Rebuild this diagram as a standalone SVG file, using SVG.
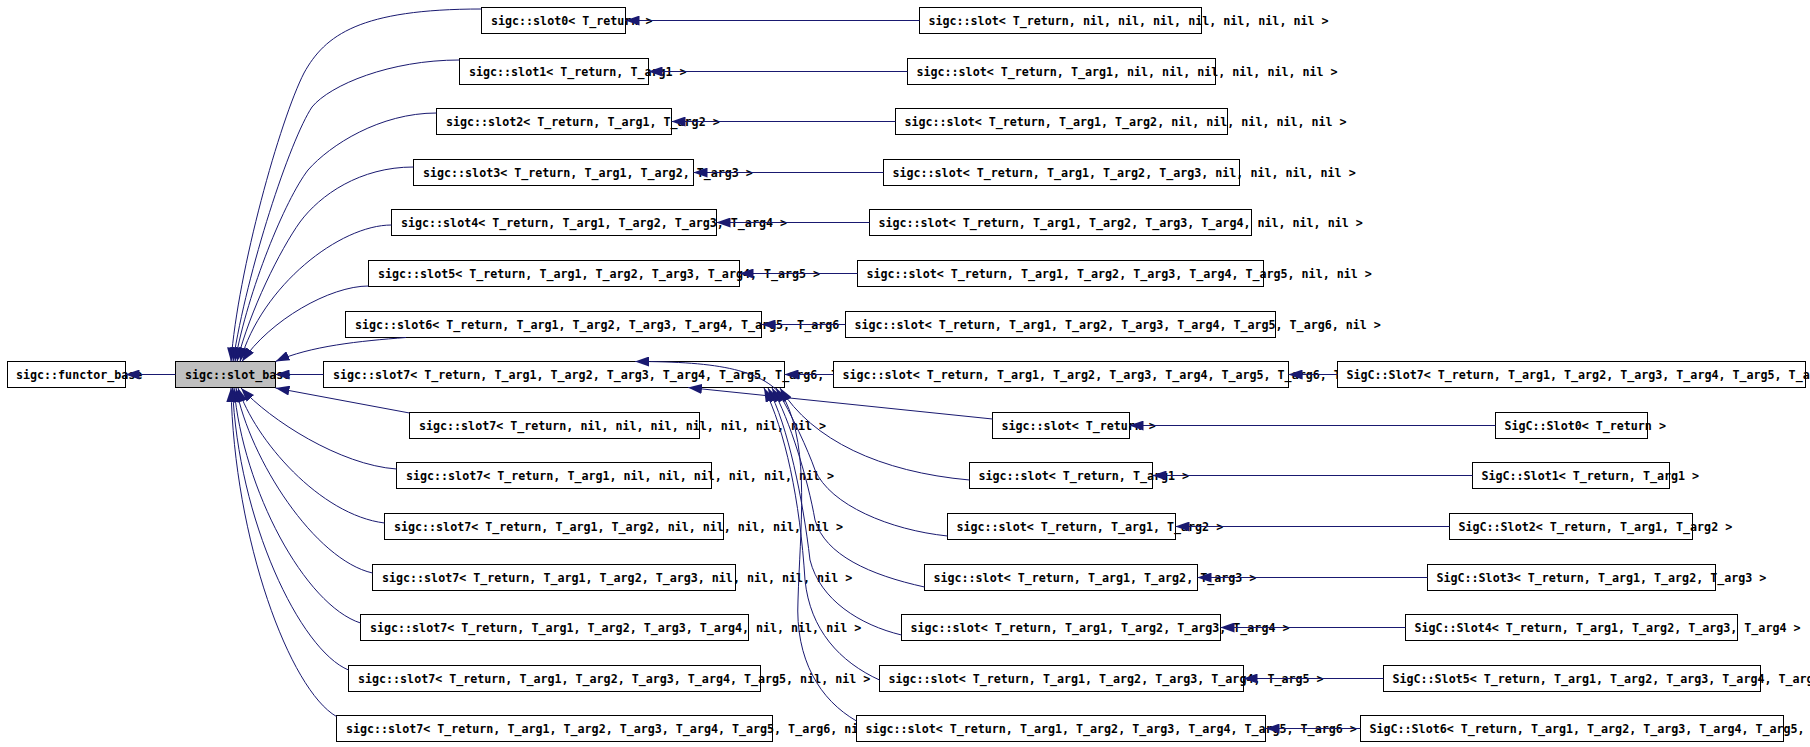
<svg xmlns="http://www.w3.org/2000/svg" width="1810" height="747" viewBox="0 0 1810 747">
<style>
rect{fill:#fff;stroke:#000;stroke-width:1}
.base rect{fill:#bfbfbf}
text{font-family:"DejaVu Sans Mono","Liberation Mono",monospace;font-size:11.67px;font-weight:bold;fill:#000}
#edges path{fill:none;stroke:#191970;stroke-width:1;marker-end:url(#ah)}
</style>
<defs>
<marker id="ah" markerUnits="userSpaceOnUse" markerWidth="14" markerHeight="10" viewBox="0 0 14 10" refX="14" refY="5" orient="auto"><path d="M0,0 L14,5 L0,10 z" fill="#191970"/></marker>
</defs>
<rect x="0" y="0" width="1810" height="747" style="fill:#fff;stroke:none"/>
<g id="nodes">
<g id="functor_base"><rect x="7.5" y="361.5" width="118" height="26"/><text x="16" y="379">sigc::functor_base</text></g>
<g id="slot_base" class="base"><rect x="175.5" y="361.5" width="100" height="26"/><text x="185" y="379">sigc::slot_base</text></g>

<g id="slot0"><rect x="481.5" y="7.5" width="144" height="26"/><text x="491" y="25">sigc::slot0&lt; T_return &gt;</text></g>
<g id="slot1"><rect x="459.5" y="58.5" width="189" height="26"/><text x="469" y="76">sigc::slot1&lt; T_return, T_arg1 &gt;</text></g>
<g id="slot2"><rect x="436.5" y="108.5" width="235" height="26"/><text x="446" y="126">sigc::slot2&lt; T_return, T_arg1, T_arg2 &gt;</text></g>
<g id="slot3"><rect x="413.5" y="159.5" width="280" height="26"/><text x="423" y="177">sigc::slot3&lt; T_return, T_arg1, T_arg2, T_arg3 &gt;</text></g>
<g id="slot4"><rect x="391.5" y="209.5" width="325" height="26"/><text x="401" y="227">sigc::slot4&lt; T_return, T_arg1, T_arg2, T_arg3, T_arg4 &gt;</text></g>
<g id="slot5"><rect x="368.5" y="260.5" width="371" height="26"/><text x="378" y="278">sigc::slot5&lt; T_return, T_arg1, T_arg2, T_arg3, T_arg4, T_arg5 &gt;</text></g>
<g id="slot6"><rect x="345.5" y="311.5" width="416" height="26"/><text x="355" y="329">sigc::slot6&lt; T_return, T_arg1, T_arg2, T_arg3, T_arg4, T_arg5, T_arg6 &gt;</text></g>
<g id="slot7"><rect x="323.5" y="361.5" width="461" height="26"/><text x="333" y="379">sigc::slot7&lt; T_return, T_arg1, T_arg2, T_arg3, T_arg4, T_arg5, T_arg6, T_arg7 &gt;</text></g>
<g id="slot7_0"><rect x="409.5" y="412.5" width="290" height="26"/><text x="419" y="430">sigc::slot7&lt; T_return, nil, nil, nil, nil, nil, nil, nil &gt;</text></g>
<g id="slot7_1"><rect x="396.5" y="462.5" width="315" height="26"/><text x="406" y="480">sigc::slot7&lt; T_return, T_arg1, nil, nil, nil, nil, nil, nil &gt;</text></g>
<g id="slot7_2"><rect x="384.5" y="513.5" width="339" height="26"/><text x="394" y="531">sigc::slot7&lt; T_return, T_arg1, T_arg2, nil, nil, nil, nil, nil &gt;</text></g>
<g id="slot7_3"><rect x="372.5" y="564.5" width="363" height="26"/><text x="382" y="582">sigc::slot7&lt; T_return, T_arg1, T_arg2, T_arg3, nil, nil, nil, nil &gt;</text></g>
<g id="slot7_4"><rect x="360.5" y="614.5" width="388" height="26"/><text x="370" y="632">sigc::slot7&lt; T_return, T_arg1, T_arg2, T_arg3, T_arg4, nil, nil, nil &gt;</text></g>
<g id="slot7_5"><rect x="348.5" y="665.5" width="412" height="26"/><text x="358" y="683">sigc::slot7&lt; T_return, T_arg1, T_arg2, T_arg3, T_arg4, T_arg5, nil, nil &gt;</text></g>
<g id="slot7_6"><rect x="336.5" y="715.5" width="436" height="26"/><text x="346" y="733">sigc::slot7&lt; T_return, T_arg1, T_arg2, T_arg3, T_arg4, T_arg5, T_arg6, nil &gt;</text></g>

<g id="slotn0"><rect x="919.5" y="7.5" width="282" height="26"/><text x="928.5" y="25">sigc::slot&lt; T_return, nil, nil, nil, nil, nil, nil, nil &gt;</text></g>
<g id="slotn1"><rect x="907.5" y="58.5" width="308" height="26"/><text x="916.5" y="76">sigc::slot&lt; T_return, T_arg1, nil, nil, nil, nil, nil, nil &gt;</text></g>
<g id="slotn2"><rect x="895.5" y="108.5" width="332" height="26"/><text x="904.5" y="126">sigc::slot&lt; T_return, T_arg1, T_arg2, nil, nil, nil, nil, nil &gt;</text></g>
<g id="slotn3"><rect x="883.5" y="159.5" width="356" height="26"/><text x="892.5" y="177">sigc::slot&lt; T_return, T_arg1, T_arg2, T_arg3, nil, nil, nil, nil &gt;</text></g>
<g id="slotn4"><rect x="869.5" y="209.5" width="382" height="26"/><text x="878.5" y="227">sigc::slot&lt; T_return, T_arg1, T_arg2, T_arg3, T_arg4, nil, nil, nil &gt;</text></g>
<g id="slotn5"><rect x="857.5" y="260.5" width="406" height="26"/><text x="866.5" y="278">sigc::slot&lt; T_return, T_arg1, T_arg2, T_arg3, T_arg4, T_arg5, nil, nil &gt;</text></g>
<g id="slotn6"><rect x="845.5" y="311.5" width="430" height="26"/><text x="854.5" y="329">sigc::slot&lt; T_return, T_arg1, T_arg2, T_arg3, T_arg4, T_arg5, T_arg6, nil &gt;</text></g>
<g id="slotn7"><rect x="833.5" y="361.5" width="455" height="26"/><text x="842.5" y="379">sigc::slot&lt; T_return, T_arg1, T_arg2, T_arg3, T_arg4, T_arg5, T_arg6, T_arg7 &gt;</text></g>
<g id="slotr0"><rect x="992.5" y="412.5" width="137" height="26"/><text x="1001.5" y="430">sigc::slot&lt; T_return &gt;</text></g>
<g id="slotr1"><rect x="969.5" y="462.5" width="183" height="26"/><text x="978.5" y="480">sigc::slot&lt; T_return, T_arg1 &gt;</text></g>
<g id="slotr2"><rect x="947.5" y="513.5" width="228" height="26"/><text x="956.5" y="531">sigc::slot&lt; T_return, T_arg1, T_arg2 &gt;</text></g>
<g id="slotr3"><rect x="924.5" y="564.5" width="273" height="26"/><text x="933.5" y="582">sigc::slot&lt; T_return, T_arg1, T_arg2, T_arg3 &gt;</text></g>
<g id="slotr4"><rect x="901.5" y="614.5" width="319" height="26"/><text x="910.5" y="632">sigc::slot&lt; T_return, T_arg1, T_arg2, T_arg3, T_arg4 &gt;</text></g>
<g id="slotr5"><rect x="879.5" y="665.5" width="364" height="26"/><text x="888.5" y="683">sigc::slot&lt; T_return, T_arg1, T_arg2, T_arg3, T_arg4, T_arg5 &gt;</text></g>
<g id="slotr6"><rect x="856.5" y="715.5" width="409" height="26"/><text x="865.5" y="733">sigc::slot&lt; T_return, T_arg1, T_arg2, T_arg3, T_arg4, T_arg5, T_arg6 &gt;</text></g>

<g id="SigC_Slot7"><rect x="1337.5" y="361.5" width="468" height="26"/><text x="1346.5" y="379">SigC::Slot7&lt; T_return, T_arg1, T_arg2, T_arg3, T_arg4, T_arg5, T_arg6, T_arg7 &gt;</text></g>
<g id="SigC_Slot0"><rect x="1495.5" y="412.5" width="152" height="26"/><text x="1504.5" y="430">SigC::Slot0&lt; T_return &gt;</text></g>
<g id="SigC_Slot1"><rect x="1472.5" y="462.5" width="197" height="26"/><text x="1481.5" y="480">SigC::Slot1&lt; T_return, T_arg1 &gt;</text></g>
<g id="SigC_Slot2"><rect x="1449.5" y="513.5" width="243" height="26"/><text x="1458.5" y="531">SigC::Slot2&lt; T_return, T_arg1, T_arg2 &gt;</text></g>
<g id="SigC_Slot3"><rect x="1427.5" y="564.5" width="288" height="26"/><text x="1436.5" y="582">SigC::Slot3&lt; T_return, T_arg1, T_arg2, T_arg3 &gt;</text></g>
<g id="SigC_Slot4"><rect x="1405.5" y="614.5" width="332" height="26"/><text x="1414.5" y="632">SigC::Slot4&lt; T_return, T_arg1, T_arg2, T_arg3, T_arg4 &gt;</text></g>
<g id="SigC_Slot5"><rect x="1383.5" y="665.5" width="377" height="26"/><text x="1392.5" y="683">SigC::Slot5&lt; T_return, T_arg1, T_arg2, T_arg3, T_arg4, T_arg5 &gt;</text></g>
<g id="SigC_Slot6"><rect x="1360.5" y="715.5" width="423" height="26"/><text x="1369.5" y="733">SigC::Slot6&lt; T_return, T_arg1, T_arg2, T_arg3, T_arg4, T_arg5, T_arg6 &gt;</text></g>
</g>

<g id="edges">
<path d="M175.5,374.5 L125.5,374.5"/>
<path d="M481.5,9 C360,9 325,35 304,73 C280,120 238,270 231,361.5"/>
<path d="M459.5,60 C390,60 330,85 312,107 C290,140 247,270 233,361.5"/>
<path d="M436.5,113 C380,113 330,145 308,170 C285,200 248,290 235,361.5"/>
<path d="M413.5,167 C360,167 320,195 300,222 C280,250 250,310 237,361.5"/>
<path d="M391.5,225 C340,225 262,285 240,361.5"/>
<path d="M368.5,286 C330,286 270,320 242,361.5"/>
<path d="M406,337.5 C360,341 310,346 275.5,361.5"/>
<path d="M323.5,374.5 L275.5,374.5"/>
<path d="M409.5,413 L275.5,388"/>
<path d="M396.5,469 C340,465 270,420 241,388"/>
<path d="M384.5,523 C320,515 255,440 238,388"/>
<path d="M372.5,573 C315,560 250,460 236,388"/>
<path d="M360.5,623 C305,605 243,490 234,388"/>
<path d="M348.5,670 C300,650 238,520 232.5,388"/>
<path d="M336.5,716.5 C290,690 234,540 231,388"/>

<path d="M919.5,20.5 L625.5,20.5"/>
<path d="M907.5,71.5 L648.5,71.5"/>
<path d="M895.5,121.5 L671.5,121.5"/>
<path d="M883.5,172.5 L693.5,172.5"/>
<path d="M869.5,222.5 L716.5,222.5"/>
<path d="M857.5,273.5 L739.5,273.5"/>
<path d="M845.5,324.5 L761.5,324.5"/>
<path d="M833.5,374.5 L784.5,374.5"/>

<path d="M992.5,419 L688,387.5"/>
<path d="M969.5,480 C880,472 812,440 780,388"/>
<path d="M947.5,536 C890,530 830,505 815,470 C808,450 792,415 776,388"/>
<path d="M924.5,587 C870,575 825,555 815,520 C808,480 790,420 772,388"/>
<path d="M901.5,635 C860,625 820,600 810,560 C803,500 788,425 768,388"/>
<path d="M879.5,680 C840,662 810,630 805,580 C800,500 785,430 764,388"/>
<path d="M856.5,721 C820,700 795,660 798,600 C800,530 810,450 785,400 C765,370 720,361.5 635,361.5"/>

<path d="M1337.5,374.5 L1288.5,374.5"/>
<path d="M1495.5,425.5 L1129.5,425.5"/>
<path d="M1472.5,475.5 L1152.5,475.5"/>
<path d="M1449.5,526.5 L1175.5,526.5"/>
<path d="M1427.5,577.5 L1197.5,577.5"/>
<path d="M1405.5,627.5 L1220.5,627.5"/>
<path d="M1383.5,678.5 L1243.5,678.5"/>
<path d="M1360.5,728.5 L1265.5,728.5"/>
</g>
</svg>
